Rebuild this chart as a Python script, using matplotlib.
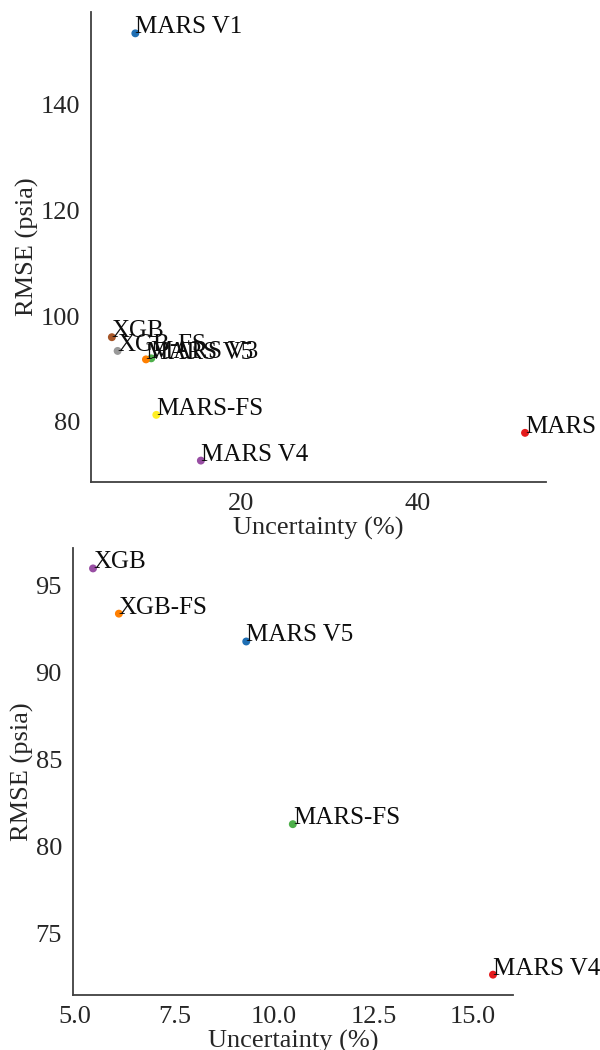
import matplotlib
matplotlib.use("Agg")
import matplotlib.pyplot as plt

# all models: uncertainty (%) vs RMSE (psia)
models_all = ["MARS", "MARS V1", "MARS V3", "MARS V4", "MARS V5", "MARS-FS", "XGB", "XGB-FS"]
unc_all = [52.1, 8.1, 9.9, 15.5, 9.3, 10.47, 5.45, 6.1]
rmse_all = [77.9, 153.5, 92.0, 72.65, 91.8, 81.3, 96.0, 93.4]
colors_all = ["#e41a1c", "#1f6fb4", "#4daf4a", "#984ea3", "#ff7f00", "#ffee22", "#a65628", "#999999"]

# zoom on the best models
models_best = ["MARS V4", "MARS V5", "MARS-FS", "XGB", "XGB-FS"]
unc_best = [15.5, 9.3, 10.47, 5.45, 6.1]
rmse_best = [72.65, 91.8, 81.3, 96.0, 93.4]
colors_best = ["#e41a1c", "#1f6fb4", "#4daf4a", "#984ea3", "#ff7f00"]

plt.rcParams["font.family"] = ["Liberation Serif", "DejaVu Serif"]
plt.rcParams["font.size"] = 19

fig = plt.figure(figsize=(6, 10.5), dpi=100)
ax1 = fig.add_axes([0.152, 0.541, 0.7575, 0.4476])
ax2 = fig.add_axes([0.1217, 0.0524, 0.7333, 0.4256])


def scatter_panel(ax, names, xs, ys, cols):
    ax.scatter(xs, ys, c=cols, s=22, zorder=3)
    for n, x, y in zip(names, xs, ys):
        ax.text(x, y, n, fontsize=18, color="0.05")
    for side in ["top", "right"]:
        ax.spines[side].set_visible(False)
    for side in ["left", "bottom"]:
        ax.spines[side].set_color("0.25")
        ax.spines[side].set_linewidth(1.3)
    ax.tick_params(length=0, pad=8, labelsize=19, colors="0.15")
    ax.set_xlabel("Uncertainty (%)", fontsize=19, labelpad=1, color="0.15")
    ax.set_ylabel("RMSE (psia)", fontsize=19, labelpad=1, color="0.15")


scatter_panel(ax1, models_all, unc_all, rmse_all, colors_all)
ax1.set_xticks([20, 40])
ax1.set_yticks([80, 100, 120, 140])

scatter_panel(ax2, models_best, unc_best, rmse_best, colors_best)
ax2.set_xticks([5.0, 7.5, 10.0, 12.5, 15.0])
ax2.set_yticks([75, 80, 85, 90, 95])

fig.savefig("out.png", dpi=100)
